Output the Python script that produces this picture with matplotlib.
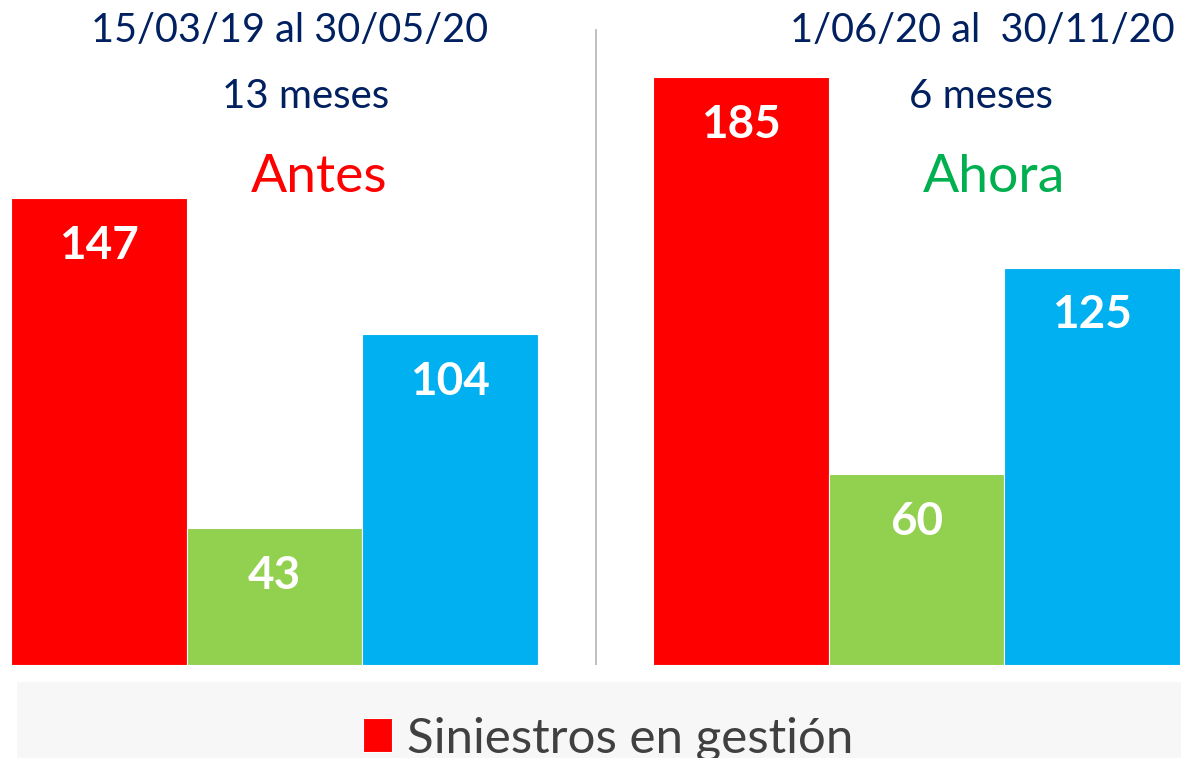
import matplotlib.pyplot as plt
from matplotlib.patches import Rectangle

plt.rcParams['font.family'] = ['Lato', 'DejaVu Sans']

periods = ["Antes", "Ahora"]
dates = ["15/03/19 al 30/05/20", "1/06/20 al  30/11/20"]
durations = ["13 meses", "6 meses"]
antes = [147, 43, 104]
ahora = [185, 60, 125]
legend_label = "Siniestros en gestión"

colors = ["#ff0000", "#92d050", "#00b0f0"]
W, H = 1181, 758

fig = plt.figure(figsize=(W / 100, H / 100), dpi=100)
ax = fig.add_axes([0, 93 / H, 1, 665 / H])

gap = 3.66
for g, vals in enumerate([antes, ahora]):
    xs = [i + g * gap for i in range(3)]
    bars = ax.bar(xs, vals, width=1.0, color=colors, edgecolor="white", linewidth=0.8)
    if g == 0:
        legend_handle = bars[0]
    for x, v in zip(xs, vals):
        ax.text(x, v - 15, str(v), ha="center", va="center", color="white",
                fontsize=33, fontweight="bold")

ax.set_xlim(-0.5627, -0.5627 + W / 175.5)
ax.set_ylim(0, 665 / 3.178)
ax.axis("off")

# divider between periods
ax.plot([2.833, 2.833], [0, 199.8], color="#b4b4b4", linewidth=1.2)

title_x = [290 / W, 982 / W]
dur_x = [306 / W, 981 / W]
period_x = [319 / W, 994 / W]
period_colors = ["#ff0000", "#00b050"]
for i in range(2):
    fig.text(title_x[i], 1 - 30 / H, dates[i], ha="center", va="center",
             color="#002060", fontsize=28.5)
    fig.text(dur_x[i], 1 - 96 / H, durations[i],
             ha="center", va="center", color="#002060", fontsize=29)
    fig.text(period_x[i], 1 - 178 / H, periods[i], ha="center", va="center",
             color=period_colors[i], fontsize=38.5)

fig.patches.append(Rectangle((17 / W, 0), 1, 76 / H, transform=fig.transFigure,
                             facecolor="#f7f7f7", edgecolor="none", zorder=0))
fig.legend([legend_handle], [legend_label], loc="center", bbox_to_anchor=(0.515, 0.026),
           frameon=False, fontsize=35.5, handlelength=0.6, handleheight=0.7,
           handletextpad=0.3, labelcolor="#404040")

fig.savefig("out.png", dpi=100)
